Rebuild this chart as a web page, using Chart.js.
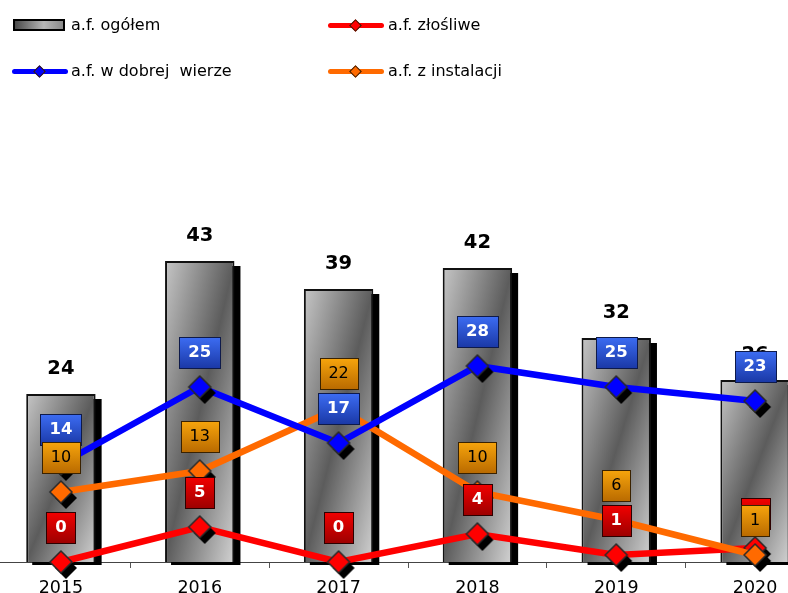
<!DOCTYPE html>
<html>
<head>
<meta charset="utf-8">
<script src="https://cdn.jsdelivr.net/npm/chart.js@4.4.1/dist/chart.umd.min.js"></script>
<style>
  html, body { margin: 0; padding: 0; background: #fff; overflow: hidden; }
  #wrap { position: relative; width: 788px; height: 593px; overflow: hidden; }
  #chart { position: absolute; left: -26px; top: 0; }
  .leg-text { position: absolute; font: 16px "DejaVu Sans", Verdana, sans-serif; line-height: 16px; color: #000; white-space: pre; }
  .leg-line { position: absolute; height: 5px; border-radius: 3px; }
  .leg-dia { position: absolute; width: 7px; height: 7px; transform: rotate(45deg); border: 1px solid #3a1a00; }
  .leg-bar { position: absolute; box-sizing: border-box; width: 52px; height: 12px; border: 2px solid #000;
             background: linear-gradient(90deg, #4a4a4a, #b8b8b8 60%, #8a8a8a); }
</style>
</head>
<body>
<div id="wrap">
  <canvas id="chart" width="868" height="642"></canvas>
</div>
<script>
const years = ['2015', '2016', '2017', '2018', '2019', '2020'];
const totalCount = [24, 43, 39, 42, 32, 26];
const goodFaith = [14, 25, 17, 28, 25, 23];
const malicious = [0, 5, 0, 4, 1, 2];
const installation = [10, 13, 22, 10, 6, 1];
const seriesNames = ['a.f. ogółem', 'a.f. w dobrej  wierze', 'a.f. złośliwe', 'a.f. z instalacji'];
const lineColors = ['#0000ff', '#ff0000', '#ff6a00'];

// legend (html, two columns)
function addLegend() {
    const wrap = document.getElementById('wrap');
    const items = [
        { name: seriesNames[0], x: 13, y: 25, bar: true },
        { name: seriesNames[2], x: 328, y: 25, color: lineColors[1] },
        { name: seriesNames[1], x: 12, y: 71, color: lineColors[0] },
        { name: seriesNames[3], x: 328, y: 71, color: lineColors[2] }
    ];
    items.forEach(it => {
        if (it.bar) {
            const b = document.createElement('div');
            b.className = 'leg-bar';
            b.style.left = it.x + 'px';
            b.style.top = (it.y - 6) + 'px';
            wrap.appendChild(b);
        } else {
            const l = document.createElement('div');
            l.className = 'leg-line';
            l.style.left = it.x + 'px';
            l.style.width = '56px';
            l.style.top = (it.y - 2.5) + 'px';
            l.style.background = it.color;
            wrap.appendChild(l);
            const d = document.createElement('div');
            d.className = 'leg-dia';
            d.style.left = (it.x + 23) + 'px';
            d.style.top = (it.y - 4.5) + 'px';
            d.style.background = it.color;
            wrap.appendChild(d);
        }
        const t = document.createElement('div');
        t.className = 'leg-text';
        t.textContent = it.name;
        t.style.left = (it.x < 100 ? 71 : 388) + 'px';
        t.style.top = (it.y - 8) + 'px';
        wrap.appendChild(t);
    });
}
addLegend();

function diamondImage(fill) {
    const c = document.createElement('canvas');
    c.width = 44;
    c.height = 44;
    const g = c.getContext('2d');
    const r = 11;
    function path(cx, cy) {
        g.beginPath();
        g.moveTo(cx, cy - r);
        g.lineTo(cx + r, cy);
        g.lineTo(cx, cy + r);
        g.lineTo(cx - r, cy);
        g.closePath();
    }
    path(27, 28);
    g.fillStyle = '#000';
    g.fill();
    path(22, 22);
    g.fillStyle = fill;
    g.fill();
    g.lineWidth = 1.5;
    g.strokeStyle = '#2a2a2a';
    g.stroke();
    return c;
}

function barGradient(context) {
    const chart = context.chart;
    const xs = chart.scales.x, ys = chart.scales.y;
    if (!xs || !ys || context.type !== 'data') return '#888';
    const cx = xs.getPixelForValue(context.dataIndex);
    const w = xs.width / years.length * 0.5;
    const top = ys.getPixelForValue(context.raw);
    const h = ys.getPixelForValue(0) - top;
    const left = cx - w / 2;
    const s = 2 * w * h / (h * h + w * w);
    const x1 = left + s * h, y1 = top + s * w;
    if (![left, top, x1, y1].every(Number.isFinite) || h <= 0 || w <= 0) return '#888';
    const grad = chart.ctx.createLinearGradient(left, top, x1, y1);
    grad.addColorStop(0, '#c6c6c6');
    grad.addColorStop(0.5, '#5c5c5c');
    grad.addColorStop(1, '#d2d2d2');
    return grad;
}

// black drop shadow behind each bar
const barShadow = {
    id: 'barShadow',
    beforeDatasetDraw(chart, args) {
        if (args.index !== 0) return;
        const ctx = chart.ctx;
        ctx.save();
        ctx.fillStyle = '#000';
        args.meta.data.forEach(bar => {
            const p = bar.getProps(['x', 'y', 'base', 'width'], true);
            ctx.fillRect(p.x - p.width / 2 + 6, p.y + 5, p.width, p.base - p.y - 2);
        });
        ctx.restore();
    }
};

const boxStyles = {
    1: { top: '#3c6cf2', bottom: '#1a38a6', border: '#0e1a4a', text: '#fff', font: 'bold 16.5px "DejaVu Sans"' },
    2: { top: '#f20000', bottom: '#9c0000', border: '#2c0000', text: '#fff', font: 'bold 16.5px "DejaVu Sans"' },
    3: { top: '#f6a40c', bottom: '#b96a00', border: '#3a2200', text: '#000', font: '16px "DejaVu Sans"' }
};

const valueLabels = {
    id: 'valueLabels',
    afterDatasetsDraw(chart) {
        const ctx = chart.ctx;
        ctx.save();
        ctx.textAlign = 'center';
        ctx.textBaseline = 'middle';
        ctx.fillStyle = '#000';
        ctx.font = 'bold 19.5px "DejaVu Sans"';
        chart.getDatasetMeta(0).data.forEach((bar, i) => {
            ctx.fillText(String(chart.data.datasets[0].data[i]), bar.x, bar.y - 25);
        });
        [1, 2, 3].forEach(di => {
            const st = boxStyles[di];
            const values = chart.data.datasets[di].data;
            ctx.font = st.font;
            chart.getDatasetMeta(di).data.forEach((pt, i) => {
                const txt = String(values[i]);
                const bw = Math.round(ctx.measureText(txt).width + 18);
                const bh = 31;
                const cy = pt.y - 35;
                const x0 = Math.round(pt.x - bw / 2) + 0.5;
                const y0 = Math.round(cy - bh / 2) + 0.5;
                const g = ctx.createLinearGradient(0, y0, 0, y0 + bh);
                g.addColorStop(0, st.top);
                g.addColorStop(1, st.bottom);
                ctx.fillStyle = g;
                ctx.fillRect(x0, y0, bw, bh);
                ctx.lineWidth = 1;
                ctx.strokeStyle = st.border;
                ctx.strokeRect(x0, y0, bw, bh);
                ctx.fillStyle = st.text;
                ctx.fillText(txt, pt.x, cy + 1);
            });
        });
        ctx.restore();
    }
};

function lineSet(label, data, color, order) {
    return {
        type: 'line',
        label: label,
        data: data,
        borderColor: color,
        backgroundColor: color,
        borderWidth: 6.5,
        tension: 0,
        fill: false,
        clip: false,
        pointStyle: diamondImage(color),
        pointRadius: 11,
        order: order
    };
}

new Chart(document.getElementById('chart'), {
    type: 'bar',
    data: {
        labels: years,
        datasets: [
            {
                label: seriesNames[0],
                data: totalCount,
                backgroundColor: barGradient,
                borderColor: '#111',
                borderWidth: 2,
                categoryPercentage: 0.5,
                barPercentage: 1,
                order: 3
            },
            lineSet(seriesNames[1], goodFaith, lineColors[0], 0),
            lineSet(seriesNames[2], malicious, lineColors[1], 2),
            lineSet(seriesNames[3], installation, lineColors[2], 1)
        ]
    },
    options: {
        responsive: false,
        animation: false,
        events: [],
        layout: { padding: { left: 10.5, right: 10.5, top: 212, bottom: 33 } },
        plugins: {
            legend: { display: false },
            tooltip: { enabled: false }
        },
        scales: {
            x: {
                offset: true,
                grid: { offset: true, drawOnChartArea: false, drawTicks: true, tickLength: 6, color: '#555' },
                border: { display: true, color: '#444', width: 1 },
                ticks: { color: '#000', padding: 10, font: { family: 'DejaVu Sans', size: 17.5 } }
            },
            y: {
                display: false,
                min: 0,
                max: 50
            }
        }
    },
    plugins: [barShadow, valueLabels]
});
</script>
</body>
</html>
